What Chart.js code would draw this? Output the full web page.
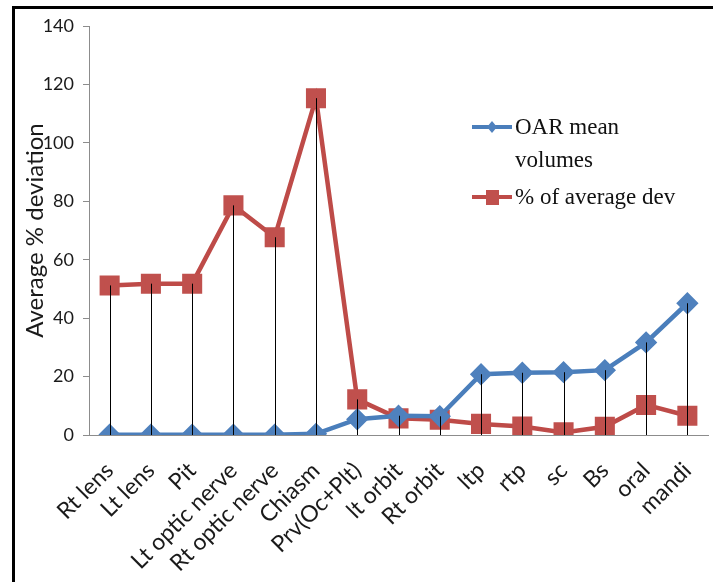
<!DOCTYPE html>
<html>
<head>
<meta charset="utf-8">
<script src="https://cdn.jsdelivr.net/npm/chart.js@4"></script>
<style>
  html, body { margin: 0; padding: 0; background: #fff; overflow: hidden; }
  #wrap { position: relative; width: 713px; height: 582px; }
  #marco { position: absolute; left: 12px; top: 6px; width: 720px; height: 600px; border: 3px solid #000; box-sizing: border-box; pointer-events: none; }
</style>
</head>
<body>
<div id="wrap">
  <canvas id="grafico" width="713" height="582"></canvas>
  <div id="marco"></div>
</div>
<script>
// datos
const categorias = ['Rt lens', 'Lt lens', 'Pit', 'Lt optic nerve', 'Rt optic nerve', 'Chiasm', 'Prv(Oc+Plt)',
  'lt orbit', 'Rt orbit', 'ltp', 'rtp', 'sc', 'Bs', 'oral', 'mandi']
const volumenMedio = [0.1, 0.1, 0.1, 0.1, 0.1, 0.4, 5.4, 6.6, 6.4, 20.8, 21.3, 21.5, 22.2, 31.7, 45.1]
const desviacion = [51.2, 51.8, 51.8, 78.6, 67.7, 115.3, 12.2, 5.7, 5.2, 3.8, 2.9, 0.9, 2.8, 10.3, 6.6]
const ticksY = [0, 20, 40, 60, 80, 100, 120, 140]

//LINEAS VERTICALES DESDE EL MAYOR VALOR HASTA EL EJE
const lineasCaida = {
  id: 'lineasCaida',
  afterDatasetsDraw(chart) {
    const { ctx, scales: { x, y } } = chart
    ctx.save()
    ctx.strokeStyle = '#000'
    ctx.lineWidth = 1
    categorias.forEach((c, i) => {
      const v = Math.max(...chart.data.datasets.map(d => d.data[i]))
      const px = Math.round(x.getPixelForValue(i)) + 0.5
      ctx.beginPath()
      ctx.moveTo(px, y.getPixelForValue(v))
      ctx.lineTo(px, y.getPixelForValue(0))
      ctx.stroke()
    })
    ctx.restore()
  }
}

//LEYENDA DENTRO DEL AREA
const leyenda = {
  id: 'leyenda',
  afterDraw(chart) {
    const ctx = chart.ctx
    const items = [
      { ds: chart.data.datasets[0], y: 127, lines: ['OAR mean', 'volumes'] },
      { ds: chart.data.datasets[1], y: 197, lines: ['% of average dev'] }
    ]
    ctx.save()
    items.forEach(it => {
      ctx.strokeStyle = it.ds.borderColor
      ctx.lineWidth = 4
      ctx.beginPath()
      ctx.moveTo(472, it.y)
      ctx.lineTo(512, it.y)
      ctx.stroke()
      ctx.fillStyle = it.ds.pointBackgroundColor
      ctx.beginPath()
      if (it.ds.pointStyle === 'rectRot') {
        ctx.moveTo(492, it.y - 6); ctx.lineTo(497, it.y); ctx.lineTo(492, it.y + 6); ctx.lineTo(487, it.y)
      } else {
        ctx.rect(486, it.y - 7, 13, 15)
      }
      ctx.fill()
      ctx.fillStyle = '#111'
      ctx.font = '23px "Liberation Serif"'
      ctx.textBaseline = 'middle'
      it.lines.forEach((t, k) => ctx.fillText(t, 515, it.y + 1 + k * 33))
    })
    ctx.restore()
  }
}

const ctx = document.querySelector('#grafico').getContext('2d')
new Chart(ctx, {
  type: 'line',
  data: {
    labels: categorias,
    datasets: [{
      label: 'OAR mean volumes',
      data: volumenMedio,
      borderColor: '#4A7EBB',
      backgroundColor: '#4F81BD',
      pointBackgroundColor: '#4F81BD',
      pointBorderColor: '#4F81BD',
      pointStyle: 'rectRot',
      pointRadius: 8,
      borderWidth: 4.5,
      tension: 0
    }, {
      label: '% of average dev',
      data: desviacion,
      borderColor: '#BE4B48',
      backgroundColor: '#C0504D',
      pointBackgroundColor: '#C0504D',
      pointBorderColor: '#C0504D',
      pointStyle: 'rect',
      pointRadius: 11,
      borderWidth: 4.5,
      tension: 0
    }]
  },
  options: {
    responsive: false,
    animation: false,
    layout: { autoPadding: false, padding: { top: 26, right: 5, left: 0, bottom: 0 } },
    plugins: { legend: { display: false }, tooltip: { enabled: false } },
    scales: {
      x: {
        offset: true,
        grid: { drawOnChartArea: false, drawTicks: false, offset: true },
        border: { color: '#8c8c8c', width: 1 },
        ticks: {
          autoSkip: false, maxRotation: 45, minRotation: 45, padding: 22,
          color: '#1a1a1a', font: { family: 'Lato', size: 23 }
        },
        afterFit: s => { s.height = 147; s.paddingLeft = 0; s.paddingRight = 0 }
      },
      y: {
        min: 0, max: 140,
        afterBuildTicks: s => { s.ticks = ticksY.map(v => ({ value: v })) },
        grid: { drawOnChartArea: false, tickLength: 6, color: '#8c8c8c' },
        border: { color: '#8c8c8c', width: 1 },
        ticks: { padding: 9, color: '#1a1a1a', font: { family: 'Lato', size: 18 } },
        title: {
          display: true, text: 'Average % deviation', color: '#1a1a1a',
          font: { family: 'Lato', size: 24 }, padding: { top: 21, bottom: 0 }
        },
        afterFit: s => { s.width = 89 }
      }
    }
  },
  plugins: [lineasCaida, leyenda]
})
</script>
</body>
</html>
